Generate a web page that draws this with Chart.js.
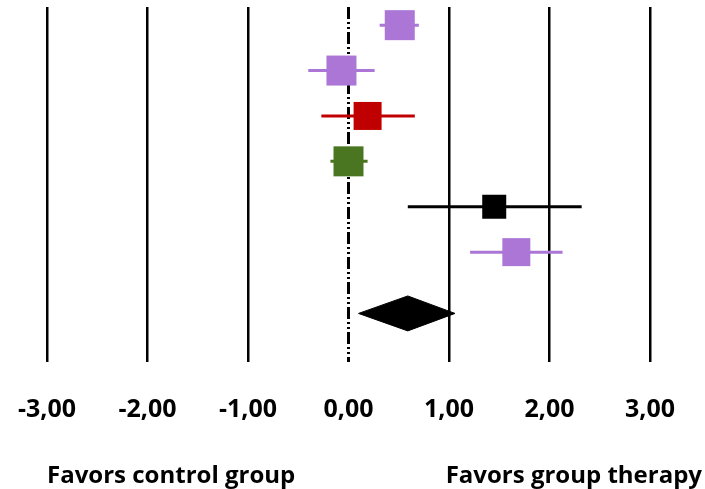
<!DOCTYPE html>
<html>
<head>
<meta charset="utf-8">
<script src="https://cdn.jsdelivr.net/npm/chart.js@4/dist/chart.umd.min.js"></script>
<style>
  html, body { margin: 0; background: #fff; }
</style>
</head>
<body>
<canvas id="forest" width="705" height="489"></canvas>
<script>
/* Forest plot: study effects with CIs, pooled diamond, dash-dot line at zero */

const STUDY_ROWS = [1, 2, 3, 4, 5, 6];
const EFFECTS = [0.51, -0.07, 0.19, 0.0, 1.45, 1.67];
const CI_LOW = [0.31, -0.4, -0.27, -0.18, 0.59, 1.21];
const CI_HIGH = [0.7, 0.26, 0.66, 0.19, 2.32, 2.13];

const POOLED_ROW = 7.35;
const POOLED = 0.59;
const POOLED_LOW = 0.1;
const POOLED_HIGH = 1.06;

const X_TICKS = [-3, -2, -1, 0, 1, 2, 3];
const LABEL_LEFT = "Favors control group";
const LABEL_RIGHT = "Favors group therapy";

// styling
const PURPLE = "#ab76d6";
const RED = "#c00000";
const GREEN = "#4a7621";
const ROW_COLORS = [PURPLE, PURPLE, RED, GREEN, "#000000", PURPLE];
const MARKER_SIDE = [30, 30, 28, 30, 24, 28];
const FONT = "'Open Sans', Lato, sans-serif";
const Y_MIN = 0.6;
const Y_MAX = 8.42;
const DIAMOND_HALF = 0.385;

const ciSets = STUDY_ROWS.map((r, i) => ({
  data: [
    { x: CI_LOW[i], y: r },
    { x: CI_HIGH[i], y: r },
  ],
  showLine: true,
  borderColor: ROW_COLORS[i],
  borderWidth: 3,
  pointRadius: 0,
  order: 2,
}));

const squareSet = {
  data: STUDY_ROWS.map((r, i) => ({ x: EFFECTS[i], y: r })),
  pointStyle: "rect",
  pointRadius: MARKER_SIDE.map((s) => s / Math.SQRT2),
  backgroundColor: ROW_COLORS,
  borderColor: ROW_COLORS,
  borderWidth: 0,
  order: 0,
};

const diamondSet = {
  data: [
    { x: POOLED_LOW, y: POOLED_ROW },
    { x: POOLED, y: POOLED_ROW - DIAMOND_HALF },
    { x: POOLED_HIGH, y: POOLED_ROW },
    { x: POOLED, y: POOLED_ROW + DIAMOND_HALF },
    { x: POOLED_LOW, y: POOLED_ROW },
  ],
  showLine: true,
  fill: "shape",
  backgroundColor: "#000",
  borderColor: "#000",
  borderWidth: 1,
  pointRadius: 0,
  order: 1,
};

const zeroSet = {
  data: [
    { x: 0, y: Y_MIN },
    { x: 0, y: Y_MAX },
  ],
  showLine: true,
  borderColor: "#000",
  borderWidth: 3,
  borderDash: [12, 3, 2, 3, 2, 3],
  pointRadius: 0,
  order: 5,
};

// "Favors ..." captions under the axis
const captionPlugin = {
  id: "captions",
  afterDraw(chart) {
    const ctx = chart.ctx;
    ctx.save();
    ctx.font = `bold 24px ${FONT}`;
    ctx.fillStyle = "#000";
    ctx.textBaseline = "alphabetic";
    ctx.textAlign = "left";
    ctx.fillText(LABEL_LEFT, 47, 483);
    ctx.textAlign = "right";
    ctx.fillText(LABEL_RIGHT, 702, 483);
    ctx.restore();
  },
};

new Chart(document.getElementById("forest"), {
  type: "scatter",
  data: { datasets: [squareSet, ...ciSets, diamondSet, zeroSet] },
  options: {
    responsive: false,
    animation: false,
    layout: { autoPadding: false, padding: { left: 47, right: 55, top: 7, bottom: 0 } },
    plugins: { legend: { display: false }, tooltip: { enabled: false } },
    scales: {
      x: {
        type: "linear",
        min: -3,
        max: 3,
        afterBuildTicks: (s) => {
          s.ticks = X_TICKS.map((v) => ({ value: v }));
        },
        afterFit: (s) => {
          s.height = 127;
        },
        border: { display: false },
        grid: {
          drawTicks: true,
          tickLength: 33,
          tickColor: "rgba(0,0,0,0)",
          lineWidth: 2.5,
          color: (c) => (c.tick && c.tick.value === 0 ? "rgba(0,0,0,0)" : "#000"),
        },
        ticks: {
          padding: 0,
          color: "#000",
          font: { family: FONT, size: 25, weight: "bold" },
          callback: (v) => v.toFixed(2).replace(".", ","),
        },
      },
      y: {
        type: "linear",
        display: false,
        reverse: true,
        min: Y_MIN,
        max: Y_MAX,
      },
    },
  },
  plugins: [captionPlugin],
});
</script>
</body>
</html>
